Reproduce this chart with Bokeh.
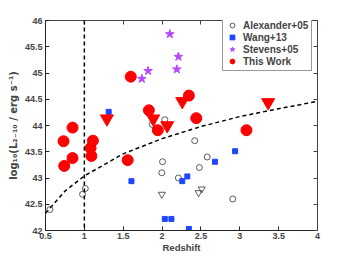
from bokeh.plotting import figure
from bokeh.models import Span, FixedTicker, LinearAxis, Legend, LegendItem, Range1d
from bokeh.embed import file_html
from bokeh.resources import INLINE

# Alexander+05 detections (open circles)
alex_x = [0.557, 0.977, 1.012, 2.006, 1.997, 1.873, 2.035, 2.42, 2.58, 2.48, 2.21, 2.91]
alex_y = [42.40, 42.69, 42.80, 43.31, 43.10, 44.02, 44.11, 43.71, 43.40, 43.20, 43.00, 42.60]
# Alexander+05 upper limits (open down triangles)
alexlim_x = [1.997, 2.47, 2.51]
alexlim_y = [42.69, 42.72, 42.79]
# Wang+13 (blue squares)
wang_x = [1.313, 1.606, 2.035, 2.12, 2.26, 2.325, 2.345, 2.68, 2.94]
wang_y = [44.26, 42.94, 42.22, 42.22, 42.94, 43.03, 42.03, 43.31, 43.51]
# Stevens+05 (purple stars)
stev_x = [2.10, 2.21, 2.19, 1.82, 1.74]
stev_y = [45.74, 45.31, 45.07, 45.04, 44.89]
# This Work detections (red circles)
tw_x = [0.848, 0.732, 0.848, 0.741, 1.11, 1.08, 1.09, 1.597, 2.345, 1.83, 1.945, 2.44, 1.558, 3.086]
tw_y = [43.96, 43.70, 43.38, 43.23, 43.71, 43.57, 43.42, 44.93, 44.57, 44.29, 43.91, 44.14, 43.34, 43.91]
# This Work upper limits (red down triangles)
twlim_x = [1.29, 2.26, 1.886, 2.066, 3.365]
twlim_y = [44.13, 44.46, 44.13, 44.00, 44.44]
# dashed curve
curve_x = [0.5, 0.75, 1.0, 1.5, 2.0, 2.5, 3.0, 3.5, 4.0]
curve_y = [42.33, 42.75, 43.04, 43.46, 43.75, 43.98, 44.17, 44.32, 44.46]

xticks = [0.5, 1, 1.5, 2, 2.5, 3, 3.5, 4]
xtick_labels = ["0.5", "1", "1.5", "2", "2.5", "3", "3.5", "4"]
yticks = [42, 42.5, 43, 43.5, 44, 44.5, 45, 45.5, 46]
ytick_labels = ["42", "42.5", "43", "43.5", "44", "44.5", "45", "45.5", "46"]

FONT = "Liberation Sans"

p = figure(width=342, height=255, output_backend="svg", toolbar_location=None,
           x_range=Range1d(0.5, 4), y_range=Range1d(42, 46),
           min_border_left=45, min_border_right=25, min_border_top=20, min_border_bottom=21)
p.xgrid.visible = False
p.ygrid.visible = False
p.outline_line_color = "#444444"
p.background_fill_color = "white"
p.border_fill_color = "white"

for ax in [p.xaxis[0], p.yaxis[0]]:
    ax.major_tick_in = 4
    ax.major_tick_out = 0
    ax.minor_tick_in = 0
    ax.minor_tick_out = 0
    ax.major_label_text_font = FONT
    ax.major_label_text_font_style = "bold"
    ax.major_label_text_font_size = "9px"
    ax.axis_label_text_font = FONT
    ax.axis_label_text_font_style = "bold"
    ax.axis_label_text_font_size = "9.5px"
    ax.axis_line_color = "#222222"
    ax.major_tick_line_color = "#222222"

p.xaxis[0].ticker = FixedTicker(ticks=xticks)
p.yaxis[0].ticker = FixedTicker(ticks=yticks)
p.xaxis[0].major_label_overrides = {t: l for t, l in zip(xticks, xtick_labels)}
p.yaxis[0].major_label_overrides = {t: l for t, l in zip(yticks, ytick_labels)}
p.xaxis[0].axis_label = "Redshift"
p.yaxis[0].axis_label = "log\u2081\u2080(L\u2082\u208b\u2081\u2080 / erg s\u207b\u00b9)"
p.yaxis[0].axis_label_text_font = "DejaVu Sans"
p.yaxis[0].axis_label_text_font_size = "10px"
p.xaxis[0].major_label_standoff = 2
p.xaxis[0].axis_label_standoff = 0
p.yaxis[0].major_label_standoff = 3
p.yaxis[0].axis_label_standoff = 3

# mirror ticks on top/right (no labels)
top = LinearAxis(ticker=FixedTicker(ticks=xticks), major_label_text_font_size="1px",
                 major_label_text_color=None,
                 major_tick_in=4, major_tick_out=0, minor_tick_in=0, minor_tick_out=0,
                 axis_line_color="#444444", major_tick_line_color="#444444")
right = LinearAxis(ticker=FixedTicker(ticks=yticks), major_label_text_font_size="1px",
                   major_label_text_color=None,
                   major_tick_in=4, major_tick_out=0, minor_tick_in=0, minor_tick_out=0,
                   axis_line_color="#444444", major_tick_line_color="#444444")
p.add_layout(top, "above")
p.add_layout(right, "right")

# reference lines
p.add_layout(Span(location=1, dimension="height", line_color="black",
                  line_dash="4 3", line_width=1.5))
p.line(curve_x, curve_y, line_color="black", line_dash="4 3", line_width=1.5)

r_alex = p.scatter(alex_x, alex_y, marker="circle", size=6, fill_color=None,
                   line_color="#333333", line_width=0.8)
p.scatter(alexlim_x, alexlim_y, marker="inverted_triangle", size=7, fill_color=None,
          line_color="#333333", line_width=0.8)
r_wang = p.scatter(wang_x, wang_y, marker="square", size=5, fill_color="#1f45ff",
                   line_color="#1f45ff")
r_stev = p.scatter(stev_x, stev_y, marker="star", size=9, fill_color="#b548ff",
                   line_color="#b548ff")
p.scatter(twlim_x, twlim_y, marker="inverted_triangle", size=13, fill_color="#ff0000",
          line_color="#ff0000")
r_tw = p.scatter(tw_x, tw_y, marker="circle", size=11, fill_color="#ff0000",
                 line_color="#ff0000")

legend = Legend(items=[LegendItem(label="Alexander+05", renderers=[r_alex]),
                       LegendItem(label="Wang+13", renderers=[r_wang]),
                       LegendItem(label="Stevens+05", renderers=[r_stev]),
                       LegendItem(label="This Work", renderers=[r_tw])],
                location=(177, 159), margin=0, padding=3, spacing=0,
                label_height=12, glyph_height=12, glyph_width=12, label_standoff=5,
                label_text_font=FONT, label_text_font_style="bold",
                label_text_font_size="10px", border_line_color="#333333",
                background_fill_alpha=1.0)
p.add_layout(legend, "center")

open("out.html", "w").write(file_html(p, INLINE))
